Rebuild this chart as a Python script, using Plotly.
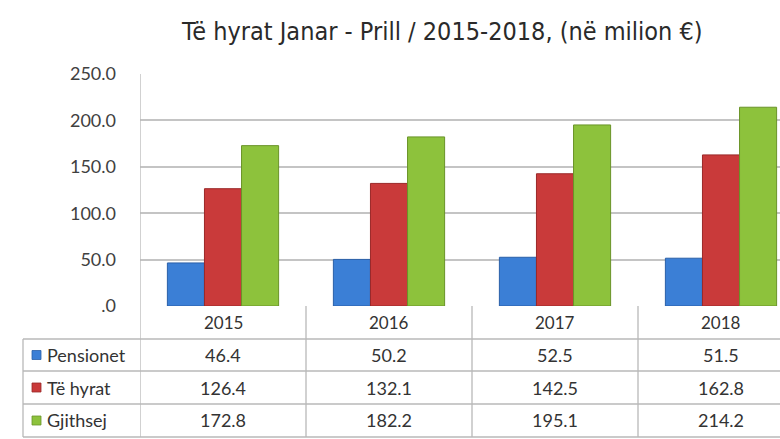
import plotly.graph_objects as go

years = ["2015", "2016", "2017", "2018"]
series_names = ["Pensionet", "Të hyrat", "Gjithsej"]
pensionet = [46.4, 50.2, 52.5, 51.5]
te_hyrat = [126.4, 132.1, 142.5, 162.8]
gjithsej = [172.8, 182.2, 195.1, 214.2]
tick_vals = [0, 50, 100, 150, 200, 250]
tick_text = [".0", "50.0", "100.0", "150.0", "200.0", "250.0"]
title_text = "Të hyrat Janar - Prill / 2015-2018, (në milion €)"

values = [pensionet, te_hyrat, gjithsej]
colors = ["#3b7fd6", "#c93a3a", "#8dc23c"]
edge = ["#2a5fa8", "#9a2828", "#6a9428"]

W, H = 780, 439
L, R, T, B = 140, 0, 74, 133
plot_w = W - L - R
plot_h = H - T - B
cat_px = 166.0
x_max = -0.5 + plot_w / cat_px

def py(p):  # pixel y -> paper y
    return (H - B - p) / plot_h

def px(p):  # pixel x -> paper x
    return (p - L) / plot_w

fig = go.Figure()
for name, vals, c, e in zip(series_names, values, colors, edge):
    fig.add_trace(go.Bar(x=years, y=vals, name=name, marker=dict(color=c, line=dict(color=e, width=1)),
                         hoverinfo="x+y+name"))

font_tbl = "Lato, Open Sans, sans-serif"
txt_col = "#333333"
line_col = "#b8b8b8"

shapes = []
annotations = []
row_lines = [339, 371, 404, 437]
for yp in row_lines:
    shapes.append(dict(type="line", xref="paper", yref="paper", x0=px(23), x1=1.0,
                       y0=py(yp), y1=py(yp), line=dict(color=line_col, width=1.3)))
shapes.append(dict(type="line", xref="paper", yref="paper", x0=px(23), x1=px(23),
                   y0=py(339), y1=py(437), line=dict(color=line_col, width=1.3)))
for k in range(len(years) + 1):
    xv = k - 0.5
    if xv > x_max:
        continue
    y_top = 1.0 if k == 0 else 0.0
    shapes.append(dict(type="line", xref="x", yref="paper", x0=xv, x1=xv,
                       y0=y_top, y1=py(437), line=dict(color=line_col, width=1.3)))

for i, yr in enumerate(years):
    annotations.append(dict(x=i, y=py(322.5), xref="x", yref="paper", text=yr, showarrow=False,
                            xanchor="center", yanchor="middle",
                            font=dict(family=font_tbl, size=17, color=txt_col)))
row_centers = [355, 387.5, 420.5]
for r, (name, vals, c, e) in enumerate(zip(series_names, values, colors, edge)):
    yc = row_centers[r]
    shapes.append(dict(type="rect", xref="paper", yref="paper", x0=px(32), x1=px(41),
                       y0=py(yc + 4.5), y1=py(yc - 4.5), fillcolor=c, line=dict(color=e, width=0.8)))
    annotations.append(dict(x=px(45), y=py(yc), xref="paper", yref="paper", text=name,
                            showarrow=False, xanchor="left", yanchor="middle",
                            font=dict(family=font_tbl, size=18, color=txt_col)))
    for i, v in enumerate(vals):
        annotations.append(dict(x=i, y=py(yc), xref="x", yref="paper", text=f"{v:.1f}",
                                showarrow=False, xanchor="center", yanchor="middle",
                                font=dict(family=font_tbl, size=18, color=txt_col)))

annotations.append(dict(x=px(442), y=py(31), xref="paper", yref="paper", text=title_text,
                        showarrow=False, xanchor="center", yanchor="middle",
                        font=dict(family="DejaVu Sans Condensed, Liberation Sans Narrow, sans-serif",
                                  size=25, color="#2a2a2a")))

fig.update_layout(
    width=W, height=H,
    margin=dict(l=L, r=R, t=T, b=B, autoexpand=False),
    paper_bgcolor="white", plot_bgcolor="white",
    barmode="group", bargap=0.33, bargroupgap=0.0,
    showlegend=False,
    shapes=shapes, annotations=annotations,
    xaxis=dict(type="category", range=[-0.5, x_max], showticklabels=False, showgrid=False,
               zeroline=False, ticks=""),
    yaxis=dict(range=[0, 250], tickvals=tick_vals, ticktext=tick_text, showgrid=True,
               gridcolor="#c4c4c4", gridwidth=1.5, zeroline=False, showline=False,
               ticks="", ticklabelstandoff=23,
               tickfont=dict(family=font_tbl, size=18, color="#404040")),
)

fig.write_html("out.html", config={"displayModeBar": False},
               post_script="document.body.style.margin='0';document.body.style.overflow='hidden';")
